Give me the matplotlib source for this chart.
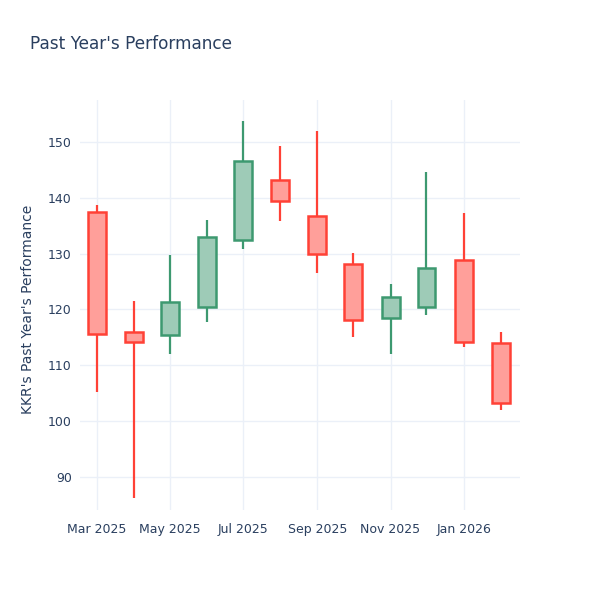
import numpy as np
import matplotlib
matplotlib.use("Agg")
import matplotlib.pyplot as plt
import matplotlib.dates as mdates
from datetime import datetime

# datos mensuales (open, high, low, close)
meses = ["2025-03-01", "2025-04-01", "2025-05-01", "2025-06-01", "2025-07-01", "2025-08-01",
         "2025-09-01", "2025-10-01", "2025-11-01", "2025-12-01", "2026-01-01", "2026-02-01"]
apertura = [137.5, 116.0, 115.4, 120.5, 132.4, 143.1, 136.7, 128.2, 118.5, 120.4, 128.8, 114.0]
maximo = [138.7, 121.6, 129.8, 136.0, 153.8, 149.2, 152.0, 130.2, 124.6, 144.7, 137.2, 115.9]
minimo = [105.3, 86.2, 112.0, 117.8, 130.8, 135.9, 126.5, 115.0, 112.0, 119.0, 113.3, 102.0]
cierre = [115.6, 114.2, 121.4, 133.0, 146.5, 139.5, 129.9, 118.2, 122.2, 127.4, 114.2, 103.2]

fechas = mdates.date2num([datetime.strptime(m, "%Y-%m-%d") for m in meses])

verde = "#3D9970"
verde_rell = "#9ECBB7"
rojo = "#FF4136"
rojo_rell = "#FF9F9A"
texto = "#2a3f5f"
rejilla = "#EBF0F8"

fig = plt.figure(figsize=(6, 6), dpi=100)
ax = fig.add_axes([0.1333, 0.15, 0.7334, 0.6833])

for i in range(len(fechas)):
    sube = cierre[i] >= apertura[i]
    col = verde if sube else rojo
    relleno = verde_rell if sube else rojo_rell
    bajo = min(apertura[i], cierre[i])
    alto = max(apertura[i], cierre[i])
    ax.vlines(fechas[i], minimo[i], bajo, color=col, lw=1.6, zorder=2)
    ax.vlines(fechas[i], alto, maximo[i], color=col, lw=1.6, zorder=2)
    ax.bar(fechas[i], alto - bajo, bottom=bajo, width=15, color=relleno,
           edgecolor=col, linewidth=1.8, zorder=3)

ax.set_xlim(mdates.date2num(datetime(2025, 2, 15)), mdates.date2num(datetime(2026, 2, 17)))
ax.set_ylim(84.1, 157.5)
ax.set_yticks([90, 100, 110, 120, 130, 140, 150])

xt = ["2025-03-01", "2025-05-01", "2025-07-01", "2025-09-01", "2025-11-01", "2026-01-01"]
ax.set_xticks(mdates.date2num([datetime.strptime(m, "%Y-%m-%d") for m in xt]))
ax.set_xticklabels(["Mar 2025", "May 2025", "Jul 2025", "Sep 2025", "Nov 2025", "Jan 2026"])

for s in ax.spines.values():
    s.set_visible(False)
ax.grid(True, color=rejilla, lw=1, zorder=0)
ax.set_axisbelow(True)
ax.tick_params(length=0, labelsize=9, colors=texto, pad=6)
ax.tick_params(axis="x", pad=9.5)
ax.set_ylabel("KKR's Past Year's Performance", fontsize=10, color=texto, labelpad=10)
ax.yaxis.set_label_coords(-0.103, 0.49)

fig.text(0.05, 0.926, "Past Year's Performance", fontsize=12.2, color=texto, va="center")

fig.savefig("out.png", dpi=100, facecolor="white")
